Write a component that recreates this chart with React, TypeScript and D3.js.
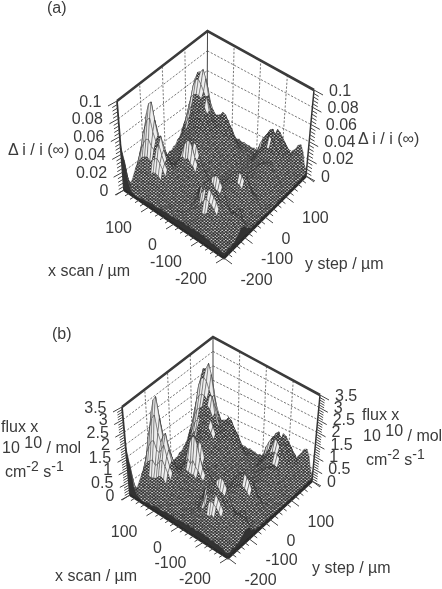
import React from "react";
import * as d3 from "d3";

// grid axes, 10 um steps. rows run x = 200 .. -200, columns y = -200 .. 200
const xScan = d3.range(200, -201, -10);
const yStep = d3.range(-200, 201, 10);
const xLabels = [100, 0, -100, -200];
const yLabels = [100, 0, -100, -200];

// panel a, delta i / i(inf) in thousandths
const deltaRows = [
  [50,30,9,3,4,9,14,18,24,26,23,19,12,10,6,7,4,5,3,4,5,4,6,5,8,8,12,13,18,19,23,22,21,13,10,5,6,3,4,2,3],
  [36,15,4,3,7,11,21,28,36,40,37,30,22,14,11,7,8,5,6,4,6,5,7,6,9,10,16,18,27,30,36,34,33,22,15,7,7,4,5,3,3],
  [13,5,3,5,7,15,27,38,52,58,50,40,28,19,12,10,7,8,5,7,5,8,7,10,10,16,20,27,36,44,50,56,48,33,21,10,8,5,6,4,3],
  [5,3,4,4,10,17,32,46,62,76,64,50,34,21,15,9,10,7,9,6,8,8,11,11,14,19,26,34,44,56,66,72,60,42,26,13,9,7,5,5,4],
  [4,3,3,6,9,20,34,52,72,88,70,54,36,24,14,12,9,10,8,10,9,12,11,16,17,24,31,40,50,60,74,80,68,48,30,16,11,7,7,4,5],
  [3,4,5,5,12,19,36,54,76,92,72,52,34,22,16,11,12,9,12,10,13,12,17,17,23,27,36,44,52,62,76,82,72,52,33,18,12,9,6,6,4],
  [3,5,4,8,11,21,33,48,62,74,60,44,30,20,14,14,11,13,11,14,13,17,18,23,25,33,40,48,54,62,72,86,74,54,33,20,13,10,8,5,5],
  [4,4,6,7,14,22,36,46,54,58,50,38,27,18,17,13,15,13,15,14,17,18,22,25,31,36,44,50,54,60,66,78,66,48,30,21,15,10,8,7,4],
  [5,6,5,10,14,26,40,50,60,56,46,34,26,21,17,18,15,17,16,18,17,21,24,30,33,40,46,52,58,64,60,62,52,40,30,22,15,12,8,6,5],
  [5,5,8,9,17,27,42,56,64,52,42,32,25,22,20,19,21,17,19,18,21,22,27,30,37,40,48,52,56,66,56,50,46,38,32,23,17,11,9,7,5],
  [6,7,6,11,15,26,38,46,50,44,37,29,26,23,26,25,23,22,19,21,20,24,26,32,35,41,44,50,50,52,46,42,42,40,34,25,17,13,8,7,6],
  [6,6,8,9,16,22,33,38,41,38,32,29,25,29,32,34,30,26,21,22,21,24,25,31,33,39,40,45,44,44,40,38,40,42,36,27,19,12,9,6,6],
  [7,7,7,11,13,21,26,33,33,33,28,28,27,34,40,42,36,30,22,22,20,23,23,29,30,35,35,39,37,38,36,36,42,46,38,28,19,13,8,7,5],
  [6,8,8,9,14,16,23,25,29,26,27,26,30,38,50,50,38,32,23,22,19,22,22,26,26,31,30,33,31,34,34,38,44,45,36,26,18,11,9,6,6],
  [7,7,9,9,10,15,17,22,22,25,23,26,30,36,56,44,46,30,25,19,20,18,22,22,26,25,28,26,29,29,34,36,41,40,33,24,15,12,7,7,4],
  [8,8,7,10,9,13,14,19,19,22,22,27,28,40,58,42,52,28,24,18,19,17,20,20,23,22,24,23,26,26,31,32,37,35,29,19,14,9,8,5,5],
  [7,9,8,8,10,10,14,15,19,18,23,24,30,36,52,38,50,26,22,17,17,16,19,18,21,19,22,20,23,23,27,27,30,28,24,15,12,8,6,6,4],
  [8,7,9,8,8,11,11,15,15,19,20,26,26,34,42,36,40,24,20,15,16,15,17,16,19,17,19,18,20,19,23,23,24,22,18,12,9,8,6,4,4],
  [8,8,7,9,9,9,12,12,16,16,21,22,28,28,36,32,32,21,19,14,15,13,16,14,17,15,17,15,17,16,19,18,20,17,14,10,8,6,5,5,3],
  [7,9,9,7,10,9,12,11,15,15,20,20,26,25,30,27,27,18,17,13,14,12,15,13,15,13,15,13,14,13,16,14,15,12,11,8,7,6,4,4,4],
  [9,8,10,8,9,11,10,13,13,17,17,22,22,24,25,23,22,17,15,14,12,13,12,14,12,13,11,12,10,13,11,13,10,11,8,8,5,6,4,5,3],
  [8,10,8,10,8,11,10,14,14,18,17,21,20,23,21,22,18,17,13,14,11,13,11,13,10,12,9,11,9,11,9,10,8,9,7,7,5,6,4,6,3],
  [10,9,10,8,11,10,14,14,19,20,21,19,21,19,20,17,18,14,15,12,13,11,12,10,11,8,10,8,10,8,10,7,9,7,8,6,9,6,7,4,5],
  [9,11,9,11,10,14,16,21,22,30,22,23,19,19,16,17,14,15,13,14,12,13,10,11,8,10,7,9,7,9,7,9,7,10,8,11,10,11,7,7,4],
  [11,9,11,10,13,15,24,25,36,26,29,23,21,16,16,14,16,14,16,14,15,12,12,9,10,7,9,7,9,7,9,8,11,11,15,14,17,13,11,6,7],
  [9,11,9,12,12,21,26,38,32,30,36,24,21,15,16,14,16,16,19,17,17,12,12,9,10,7,9,7,9,7,10,10,14,16,22,22,24,18,14,8,7],
  [11,9,12,11,16,22,36,44,36,34,42,24,20,15,16,14,18,19,24,21,20,14,13,9,10,8,9,7,10,9,12,13,19,23,31,31,32,24,17,9,8],
  [9,11,10,14,17,30,42,50,38,36,48,25,20,14,15,15,20,23,30,27,24,16,14,10,11,9,11,10,13,12,15,17,25,30,38,38,39,30,20,10,8],
  [12,10,13,13,21,34,46,54,38,38,52,26,20,14,15,15,22,27,36,32,28,18,15,10,11,9,12,12,16,15,18,21,30,35,43,43,45,35,23,11,9],
  [10,13,11,16,21,38,48,56,38,40,54,26,20,14,15,15,24,30,40,36,31,20,16,10,11,10,14,15,20,19,21,24,34,39,46,43,47,37,25,12,9],
  [12,11,14,14,25,36,46,52,36,40,50,27,20,13,14,15,24,32,42,38,32,21,16,11,11,11,16,19,25,23,24,26,36,48,40,48,40,46,24,15,8],
  [10,13,12,16,22,34,42,46,36,38,44,26,19,13,14,14,23,32,43,39,33,21,16,10,11,11,18,22,29,27,26,27,37,46,40,46,38,44,25,16,9],
  [12,11,13,13,22,30,38,40,34,34,36,23,18,12,13,13,22,31,40,39,32,20,15,10,11,12,19,24,30,29,28,27,36,42,42,42,38,40,26,17,10],
  [9,12,11,14,17,25,31,33,30,30,28,19,16,11,12,12,20,28,36,37,30,19,14,9,11,12,20,26,32,31,29,26,34,38,42,40,40,36,27,16,15],
  [11,10,12,11,16,20,25,27,26,26,22,17,14,10,11,11,17,23,30,31,26,16,13,8,10,11,19,25,31,30,28,24,30,33,38,36,38,32,25,17,21],
  [8,11,9,12,12,18,20,24,24,24,19,16,11,11,8,11,12,19,22,25,18,15,9,9,7,11,14,22,24,26,21,22,23,29,30,32,30,29,21,22,24],
  [10,9,11,9,12,13,19,21,27,25,24,15,12,8,9,7,11,12,17,15,15,10,9,6,8,7,12,14,18,17,17,14,18,19,23,22,24,20,20,23,30],
  [8,10,8,10,9,13,15,24,30,27,30,16,11,7,8,6,9,8,11,9,10,7,8,5,7,6,9,9,12,10,12,9,12,12,15,13,15,13,16,23,32],
  [9,7,10,8,10,10,16,20,32,26,32,16,11,6,7,5,7,6,8,6,8,5,7,4,6,4,7,6,8,6,8,6,9,7,9,7,9,7,11,16,25],
  [6,9,7,9,7,11,12,19,23,28,21,15,8,7,4,6,4,6,4,6,4,6,3,5,3,5,3,6,4,6,4,6,4,6,4,6,4,6,5,10,11],
  [7,6,8,6,8,7,11,12,17,16,15,9,8,4,5,3,5,3,5,3,5,2,4,2,4,2,4,2,4,2,4,2,4,2,4,2,4,2,5,3,6],
];

// panel b, flux x 1e10 in hundredths
const fluxRows = [
  [190,105,30,10,15,30,45,60,80,90,80,65,40,35,20,25,15,20,10,15,15,15,20,20,30,30,40,45,60,65,80,80,75,45,35,20,20,10,15,10,10],
  [130,55,15,10,25,40,70,95,125,145,130,105,75,50,35,25,25,20,20,15,20,20,25,25,30,35,55,60,95,105,125,125,115,75,55,25,25,15,20,10,10],
  [45,20,10,15,25,50,95,140,195,225,190,145,100,65,40,35,25,25,20,25,20,25,25,35,35,55,70,95,125,160,190,205,175,115,75,35,30,20,20,15,10],
  [20,10,15,15,35,60,115,170,240,295,245,185,125,75,50,30,35,25,30,20,30,30,40,40,50,65,90,120,160,210,255,275,225,150,90,45,30,25,20,15,15],
  [15,10,10,20,30,70,125,195,280,345,275,205,130,85,50,40,30,35,30,35,30,40,40,55,60,85,110,145,185,230,285,315,255,175,105,55,40,25,25,15,20],
  [10,15,20,20,40,70,135,205,300,365,285,195,120,75,55,40,40,30,40,35,45,45,60,60,80,95,125,160,195,240,295,320,270,190,115,65,40,30,20,20,15],
  [10,20,15,30,40,75,120,175,235,285,225,160,105,70,50,50,40,45,40,50,45,60,65,80,90,115,145,175,205,240,285,345,285,200,115,70,45,35,30,20,20],
  [15,15,25,25,50,80,130,170,205,220,185,135,95,65,60,45,55,45,55,50,60,65,80,90,110,130,160,185,205,230,260,310,255,175,105,75,50,35,30,25,15],
  [20,20,20,35,50,95,150,190,235,215,170,125,90,75,60,65,55,60,55,65,60,75,85,110,120,145,170,195,220,250,235,240,200,145,105,75,55,40,30,20,20],
  [15,20,30,30,60,100,160,215,255,200,155,115,90,75,70,70,75,60,70,65,75,80,95,110,135,145,175,195,210,255,215,190,170,135,115,80,60,40,30,25,15],
  [20,25,20,40,55,95,140,175,195,165,135,105,95,80,95,90,80,80,65,75,70,85,95,115,125,150,160,185,185,195,175,155,150,145,120,90,60,45,30,25,20],
  [25,20,30,30,60,80,120,140,155,140,115,105,90,105,115,125,105,90,75,80,75,85,90,110,120,140,145,165,160,160,145,135,145,150,130,95,70,40,35,20,20],
  [25,25,25,40,45,75,95,120,120,120,100,100,95,125,155,165,125,105,80,80,70,85,85,105,105,125,125,140,135,135,130,130,150,165,135,100,65,45,30,25,20],
  [20,30,30,30,50,55,80,90,105,95,95,90,105,145,200,195,135,115,80,80,65,80,80,95,95,110,105,120,110,120,120,135,155,160,130,90,65,40,30,20,20],
  [25,25,30,30,35,55,60,80,80,90,80,90,105,130,230,165,175,105,90,65,70,65,80,80,95,90,100,90,105,105,120,130,145,140,115,85,55,40,25,25,15],
  [30,30,25,35,30,45,50,70,70,80,80,95,100,150,240,150,205,100,85,60,65,60,70,70,85,80,85,80,90,90,110,115,130,125,105,65,50,30,30,20,20],
  [25,30,30,30,35,35,50,55,70,65,80,85,105,130,210,135,195,95,80,60,60,55,70,65,75,70,80,70,80,80,95,95,105,100,85,55,40,30,20,20,15],
  [30,25,30,30,30,40,40,55,55,70,70,90,90,120,165,125,150,85,70,55,55,55,60,55,70,60,70,65,70,65,80,80,85,80,65,45,30,30,20,15,15],
  [30,30,25,30,30,30,45,45,55,55,75,75,100,100,130,115,115,75,65,50,55,45,55,50,60,55,60,55,60,55,65,65,70,60,50,35,30,20,20,15,10],
  [25,30,30,25,35,30,45,40,55,50,70,70,90,90,105,95,95,65,60,45,50,40,55,45,55,45,55,45,50,45,55,50,55,40,40,30,25,20,15,15,15],
  [30,30,35,30,30,40,35,45,45,60,60,75,75,85,90,80,75,60,55,50,40,45,40,50,40,45,40,40,35,45,40,45,35,40,30,30,20,20,15,20,10],
  [30,35,30,35,30,40,35,50,50,65,60,75,70,80,75,75,65,60,45,50,40,45,40,45,35,40,30,40,30,40,30,35,30,30,25,25,20,20,15,20,10],
  [35,30,35,30,40,35,50,50,70,70,75,65,75,65,70,60,65,50,55,40,45,40,40,35,40,30,35,30,35,30,35,25,30,25,30,20,30,20,25,15,15],
  [30,40,30,40,35,50,55,75,80,110,80,80,65,65,55,60,50,55,45,50,40,45,35,40,30,35,25,30,25,30,25,30,25,35,30,40,35,40,25,25,15],
  [40,30,40,35,45,55,85,90,130,95,105,80,75,55,55,50,55,50,55,50,50,40,40,30,35,25,30,25,30,25,30,30,40,40,55,50,60,45,40,20,25],
  [30,40,30,40,45,75,95,140,115,110,130,85,75,55,55,50,55,55,65,60,60,40,40,30,35,25,30,25,30,25,35,35,50,55,80,80,85,65,50,30,25],
  [40,30,40,40,55,80,130,160,130,120,150,85,70,55,55,50,65,65,85,75,70,50,45,30,35,30,30,25,35,30,45,45,65,80,115,115,115,85,60,30,30],
  [30,40,35,50,60,110,150,180,140,130,170,90,70,50,55,55,70,85,110,95,85,55,50,35,40,30,40,35,45,40,55,60,85,105,140,140,140,105,70,35,30],
  [40,35,45,45,75,120,165,190,135,135,185,90,70,50,55,55,80,95,130,115,100,65,55,35,40,30,40,40,55,50,65,75,105,125,160,160,165,125,80,40,30],
  [35,45,40,55,75,135,170,200,135,145,195,95,70,50,55,55,85,105,145,130,110,70,55,35,40,35,50,50,70,65,75,85,120,140,170,155,175,130,90,40,30],
  [40,40,50,50,90,130,165,185,130,145,180,95,70,45,50,55,85,115,155,135,115,75,55,40,40,40,55,65,90,80,85,90,130,175,145,175,145,165,85,55,30],
  [35,45,40,55,80,120,150,165,130,135,160,95,65,45,50,50,80,115,160,140,120,75,55,35,40,40,65,75,105,95,90,95,135,170,145,170,135,160,90,55,30],
  [40,40,45,45,80,105,135,145,120,120,130,80,65,40,45,45,80,110,150,140,115,70,50,35,40,40,70,85,110,105,100,95,130,155,155,155,135,145,95,60,35],
  [30,40,40,50,60,90,110,120,105,105,100,70,55,40,40,40,70,100,135,135,110,65,50,30,40,40,70,95,115,110,105,90,120,140,155,145,145,130,95,55,55],
  [40,35,40,40,55,70,90,95,90,90,80,60,50,35,40,35,60,85,110,115,95,55,45,30,35,35,70,90,110,105,100,85,110,120,140,130,140,115,90,60,75],
  [30,40,30,40,40,65,70,85,85,85,65,55,40,40,30,40,40,70,80,90,65,55,30,30,25,40,50,80,85,95,75,80,80,105,110,115,110,105,75,80,90],
  [35,30,40,30,40,45,70,75,100,90,85,55,40,25,30,25,40,40,60,55,55,35,30,20,30,25,40,50,65,60,60,50,65,70,85,80,85,70,70,85,110],
  [30,35,30,35,30,45,55,85,110,100,110,60,40,25,30,20,30,30,40,30,35,25,30,20,25,20,30,30,45,35,45,30,45,45,55,45,55,45,55,85,115],
  [30,25,35,30,35,35,55,70,115,95,115,60,40,20,25,20,25,20,30,20,30,20,25,15,20,15,25,20,30,20,30,20,30,25,30,25,30,25,40,60,90],
  [20,30,25,30,25,40,40,65,85,100,75,55,30,25,15,20,15,20,15,20,15,20,10,20,10,20,10,20,15,20,15,20,15,20,15,20,15,20,20,35,40],
  [25,20,30,20,30,25,40,45,60,55,55,30,30,15,20,10,20,10,20,10,20,10,15,10,15,10,15,10,15,10,15,10,15,10,15,10,15,10,20,10,20],
];

const deltaTicks = [0, 20, 40, 60, 80, 100];
const deltaTickLabels = ["0", "0.02", "0.04", "0.06", "0.08", "0.1"];
const deltaMinor = d3.range(0, 101, 4);
const fluxTicks = [0, 50, 100, 150, 200, 250, 300, 350];
const fluxTickLabels = ["0", "0.5", "1", "1.5", "2", "2.5", "3", "3.5"];
const fluxMinor = d3.range(0, 351, 10);

type Pt = [number, number];
type PanelProps = {
  rows: number[][];
  zMax: number;
  zTicks: number[];
  zLabels: string[];
  zMinor: number[];
  corners: { L: Pt; B: Pt; R: Pt; F: Pt; TL: Pt; TB: Pt; TR: Pt };
};

const ink = "#3b3b3b";
const line = d3.line();
// high, tall facets read as bright stripes, the rest as dense mesh
const steepPx = 13;
const brightLevel = 0.36;

function Surface({ rows, zMax, zTicks, zLabels, zMinor, corners }: PanelProps) {
  const { L, B, R, F, TL, TB, TR } = corners;
  const aScale = d3.scaleLinear().domain([200, -200]).range([0, 1]);
  const bScale = d3.scaleLinear().domain([-200, 200]).range([0, 1]);
  const zScale = d3.scaleLinear().domain([0, zMax]).range([0, 1]);

  // wall height at each corner, front one is extrapolated
  const hL: Pt = [TL[0] - L[0], TL[1] - L[1]];
  const hB: Pt = [TB[0] - B[0], TB[1] - B[1]];
  const hR: Pt = [TR[0] - R[0], TR[1] - R[1]];
  const hF: Pt = [hL[0] + hR[0] - hB[0], hL[1] + hR[1] - hB[1]];

  const bilerp = (a: number, b: number, p: Pt, q: Pt, r: Pt, s: Pt, k: 0 | 1) =>
    (1 - a) * (1 - b) * p[k] + a * (1 - b) * q[k] + (1 - a) * b * r[k] + a * b * s[k];

  const project = (x: number, y: number, z: number): Pt => {
    const a = aScale(x);
    const b = bScale(y);
    const t = zScale(z);
    return [
      bilerp(a, b, L, F, B, R, 0) + t * bilerp(a, b, hL, hF, hB, hR, 0),
      bilerp(a, b, L, F, B, R, 1) + t * bilerp(a, b, hL, hF, hB, hR, 1),
    ];
  };

  const heightAt = (r: number, c: number) => {
    const row = rows[r];
    return row[c] ?? row[row.length - 1];
  };

  // back corner first, so nearer cells paint over farther ones
  const cells: { d: string; bright: boolean }[] = [];
  for (let r = 0; r < xScan.length - 1; r++) {
    for (let c = yStep.length - 2; c >= 0; c--) {
      const quad: Pt[] = [
        project(xScan[r], yStep[c], heightAt(r, c)),
        project(xScan[r + 1], yStep[c], heightAt(r + 1, c)),
        project(xScan[r + 1], yStep[c + 1], heightAt(r + 1, c + 1)),
        project(xScan[r], yStep[c + 1], heightAt(r, c + 1)),
      ];
      const [top, bottom] = d3.extent(quad, (p) => p[1]) as [number, number];
      const peak = Math.max(heightAt(r, c), heightAt(r + 1, c), heightAt(r + 1, c + 1), heightAt(r, c + 1));
      cells.push({ d: line(quad) + "Z", bright: bottom - top > steepPx && zScale(peak) > brightLevel });
    }
  }

  // dark side faces between the mesh edge and the floor
  const leftSkirt: Pt[] = [
    ...xScan.map((x, r) => project(x, -200, heightAt(r, 0))),
    F,
    L,
  ];
  const rightSkirt: Pt[] = [
    ...yStep.map((y, c) => project(-200, y, heightAt(xScan.length - 1, c))),
    R,
    F,
  ];

  const seg = (a: Pt, b: Pt) => line([a, b]) as string;
  const xTip = (v: number): Pt => {
    const p = project(v, -200, 0);
    return [p[0] - 8, p[1] + 5];
  };
  const yTip = (v: number): Pt => {
    const p = project(-200, v, 0);
    return [p[0] + 8, p[1] + 6];
  };

  return (
    <g>
      {/* walls */}
      <g stroke="#555" strokeWidth={0.8} strokeDasharray="2.2 1.6" fill="none">
        {zTicks.slice(1, -1).map((z) => (
          <path key={"gz" + z} d={seg(project(200, -200, z), project(200, 200, z))} />
        ))}
        {zTicks.slice(1, -1).map((z) => (
          <path key={"gr" + z} d={seg(project(200, 200, z), project(-200, 200, z))} />
        ))}
        {[-100, 0, 100].map((v) => (
          <path key={"gy" + v} d={seg(project(200, v, 0), project(200, v, zMax))} />
        ))}
        {[-100, 0, 100].map((v) => (
          <path key={"gx" + v} d={seg(project(v, 200, 0), project(v, 200, zMax))} />
        ))}
      </g>
      <path d={seg(B, TB)} stroke="#444" strokeWidth={1} />
      <path d={seg(L, TL)} stroke="#333" strokeWidth={1.8} />
      <path d={seg(R, TR)} stroke="#333" strokeWidth={1.5} />
      <path d={line([TL, TB, TR]) as string} stroke="#3a3a3a" strokeWidth={2.6} fill="none" />

      {/* mesh */}
      <g stroke="#2a2a2a" strokeWidth={0.4} strokeLinejoin="round">
        {cells.map((cell, i) => (
          <path key={i} d={cell.d} fill={cell.bright ? "#eee" : "url(#meshDots)"} />
        ))}
      </g>
      <path d={line(leftSkirt) + "Z"} fill="#333" />
      <path d={line(rightSkirt) + "Z"} fill="#333" />
      <path d={line([L, F, R]) as string} stroke="#2a2a2a" strokeWidth={2.6} fill="none" />

      {/* axis ticks */}
      <g stroke="#444" strokeWidth={1} fill="none">
        {d3.range(-200, 201, 20).map((v) => {
          const major = v % 100 === 0;
          const p = project(v, -200, 0);
          const q = project(-200, v, 0);
          return (
            <g key={v}>
              <path d={seg(p, major ? xTip(v) : [p[0] - 4, p[1] + 2.5])} />
              <path d={seg(q, major ? yTip(v) : [q[0] + 4, q[1] + 3])} />
            </g>
          );
        })}
        {zMinor.map((z) => {
          const major = zTicks.includes(z);
          const p = project(200, -200, z);
          const q = project(-200, 200, z);
          return (
            <g key={z}>
              <path d={seg(p, [p[0] - (major ? 9 : 5), p[1] + (major ? 5 : 3)])} />
              <path d={seg(q, [q[0] + (major ? 9 : 5), q[1] + (major ? 5 : 3)])} />
            </g>
          );
        })}
      </g>

      {/* tick labels */}
      <g fill={ink} fontSize={16}>
        {xLabels.map((v) => (
          <text key={v} x={xTip(v)[0] - 9} y={xTip(v)[1] + 21} textAnchor="end">
            {v}
          </text>
        ))}
        {yLabels.map((v) => (
          <text key={v} x={yTip(v)[0] + 8.5} y={yTip(v)[1] + 20.5}>
            {v}
          </text>
        ))}
        {zTicks.map((z, i) => (
          <text key={z} x={project(200, -200, z)[0] - 15.5} y={project(200, -200, z)[1] + 5.5} textAnchor="end">
            {zLabels[i]}
          </text>
        ))}
        {zTicks.map((z, i) => (
          <text key={z} x={project(-200, 200, z)[0] + 15} y={project(-200, 200, z)[1] + 5.5}>
            {zLabels[i]}
          </text>
        ))}
      </g>
    </g>
  );
}

function FluxTitle({ x, y }: { x: number; y: number }) {
  return (
    <text fill={ink} fontSize={16}>
      <tspan x={x} y={y}>flux x</tspan>
      <tspan x={x + 1} y={y + 21}>10</tspan>
      <tspan dy={-5}> 10</tspan>
      <tspan dy={5}> / mol</tspan>
      <tspan x={x + 4} y={y + 45}>cm</tspan>
      <tspan dy={-6} fontSize={14}>-2</tspan>
      <tspan dy={6}> s</tspan>
      <tspan dy={-6} fontSize={14}>-1</tspan>
    </text>
  );
}

export default function App() {
  return (
    <svg
      width={442}
      height={589}
      viewBox="0 0 442 589"
      fontFamily="'Liberation Sans', Arial, sans-serif"
      style={{ position: "absolute", left: 0, top: 0, display: "block", background: "#fff" }}
    >
      <defs>
        <filter id="scan" x="0" y="0" width="100%" height="100%">
          <feGaussianBlur stdDeviation={0.45} />
        </filter>
        <pattern id="meshDots" patternUnits="userSpaceOnUse" width={3.6} height={3}>
          <rect width={3.6} height={3} fill="#2b2b2b" />
          <circle cx={0.9} cy={0.75} r={0.82} fill="#efefef" />
          <circle cx={2.7} cy={2.25} r={0.82} fill="#efefef" />
        </pattern>
      </defs>
      <g filter="url(#scan)">
        <Surface
          rows={deltaRows}
          zMax={100}
          zTicks={deltaTicks}
          zLabels={deltaTickLabels}
          zMinor={deltaMinor}
          corners={{ L: [124, 190], B: [207, 130], R: [306, 176], F: [224, 258], TL: [117, 101], TB: [207.5, 31], TR: [314, 90] }}
        />
        <Surface
          rows={fluxRows}
          zMax={350}
          zTicks={fluxTicks}
          zLabels={fluxTickLabels}
          zMinor={fluxMinor}
          corners={{ L: [130, 495], B: [213, 438], R: [312, 481], F: [228, 558], TL: [122, 407], TB: [213, 337], TR: [320, 395] }}
        />
        <g fill={ink} fontSize={16}>
          <text x={47} y={13}>(a)</text>
          <text x={48} y={276}>x scan / µm</text>
          <text x={305} y={269}>y step / µm</text>
          <text x={8} y={155}>Δ i / i (∞)</text>
          <text x={358} y={144}>Δ i / i (∞)</text>
          <text x={52} y={339}>(b)</text>
          <text x={55} y={581}>x scan / µm</text>
          <text x={312} y={573}>y step / µm</text>
        </g>
        <FluxTitle x={1} y={432} />
        <FluxTitle x={362} y={420} />
      </g>
    </svg>
  );
}
